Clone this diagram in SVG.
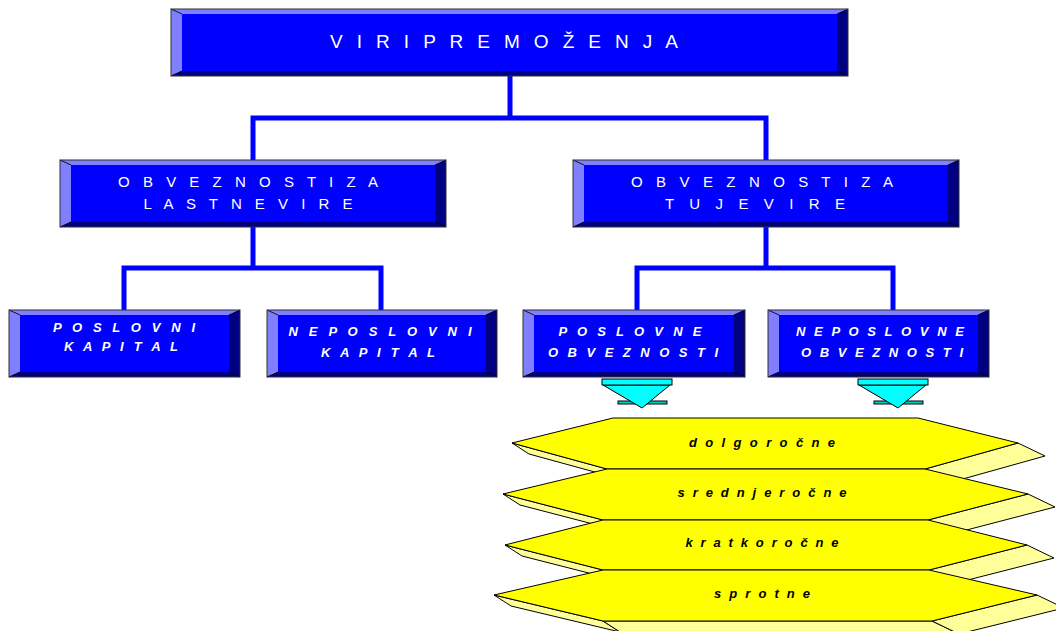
<svg xmlns="http://www.w3.org/2000/svg" width="1056" height="631" viewBox="0 0 1056 631">
  <style>
    .face { fill: #0000FF; }
    .lite { fill: #8080FF; }
    .dark { fill: #000080; }
    .rim { fill: none; stroke: #303030; stroke-width: 1; }
    .edge { stroke: #000000; stroke-width: 0.8; }
    .wire { fill: none; stroke: #0000FF; stroke-width: 5; stroke-linejoin: miter; stroke-linecap: butt; }
    .t-big { font-family: "Liberation Sans", Arial, sans-serif; font-size: 19px; fill: #FFFFFF; text-anchor: middle; }
    .t-mid { font-family: "Liberation Sans", Arial, sans-serif; font-size: 15px; fill: #FFFFFF; text-anchor: middle; }
    .t-low { font-family: "Liberation Sans", Arial, sans-serif; font-size: 13px; font-weight: bold; font-style: italic; fill: #FFFFFF; text-anchor: middle; }
    .t-band { font-family: "Liberation Sans", Arial, sans-serif; font-size: 13px; font-weight: bold; font-style: italic; fill: #000000; text-anchor: middle; }
    .band { fill: #FFFF00; stroke: #000000; stroke-width: 1; stroke-linejoin: round; }
    .band-side { fill: #FFFF99; stroke: #000000; stroke-width: 1; stroke-linejoin: round; }
    .arrow { fill: #00FFFF; stroke: #000000; stroke-width: 1; }
    .arrow-back { fill: #00CCCC; stroke: #000000; stroke-width: 1; }
  </style>

  <!-- connectors (drawn first so the boxes sit on top) -->
  <g id="connectors">
    <polyline class="wire" points="510,76 510,118"/>
    <polyline class="wire" points="253,160 253,118 766,118 766,160"/>
    <polyline class="wire" points="253,227 253,268"/>
    <polyline class="wire" points="124,310 124,268 381,268 381,310"/>
    <polyline class="wire" points="766,227 766,268"/>
    <polyline class="wire" points="637,310 637,268 893,268 893,310"/>
  </g>

  <!-- root -->
  <g id="viri-premozenja">
    <rect class="face" x="171" y="9" width="677" height="67"/>
    <polygon class="lite" points="171,9 848,9 837,14 182,14"/>
    <polygon class="lite" points="171,9 182,14 182,71 171,76"/>
    <polygon class="dark" points="848,9 848,76 837,71 837,14"/>
    <polygon class="dark" points="171,76 182,71 837,71 848,76"/>
    <path class="edge" d="M171,9 L182,14 M848,9 L837,14 M171,76 L182,71 M848,76 L837,71"/>
    <rect class="rim" x="171" y="9" width="677" height="67"/>
    <text class="t-big" x="504" y="48" textLength="348" lengthAdjust="spacing">V I R I P R E M O Ž E N J A</text>
  </g>

  <!-- second level -->
  <g id="obveznosti-lastne">
    <rect class="face" x="60" y="160" width="386" height="67"/>
    <polygon class="lite" points="60,160 446,160 435,165 71,165"/>
    <polygon class="lite" points="60,160 71,165 71,222 60,227"/>
    <polygon class="dark" points="446,160 446,227 435,222 435,165"/>
    <polygon class="dark" points="60,227 71,222 435,222 446,227"/>
    <path class="edge" d="M60,160 L71,165 M446,160 L435,165 M60,227 L71,222 M446,227 L435,222"/>
    <rect class="rim" x="60" y="160" width="386" height="67"/>
    <text class="t-mid" x="248" y="187" textLength="260" lengthAdjust="spacing">O B V E Z N O S T I Z A</text>
    <text class="t-mid" x="248" y="209" textLength="209" lengthAdjust="spacing">L A S T N E V I R E</text>
  </g>

  <g id="obveznosti-tuje">
    <rect class="face" x="573" y="160" width="386" height="67"/>
    <polygon class="lite" points="573,160 959,160 948,165 584,165"/>
    <polygon class="lite" points="573,160 584,165 584,222 573,227"/>
    <polygon class="dark" points="959,160 959,227 948,222 948,165"/>
    <polygon class="dark" points="573,227 584,222 948,222 959,227"/>
    <path class="edge" d="M573,160 L584,165 M959,160 L948,165 M573,227 L584,222 M959,227 L948,222"/>
    <rect class="rim" x="573" y="160" width="386" height="67"/>
    <text class="t-mid" x="762" y="187" textLength="262" lengthAdjust="spacing">O B V E Z N O S T I Z A</text>
    <text class="t-mid" x="755" y="209" textLength="180" lengthAdjust="spacing">T U J E V I R E</text>
  </g>

  <!-- third level -->
  <g id="poslovni-kapital">
    <rect class="face" x="9" y="310" width="231" height="67"/>
    <polygon class="lite" points="9,310 240,310 229,315 20,315"/>
    <polygon class="lite" points="9,310 20,315 20,372 9,377"/>
    <polygon class="dark" points="240,310 240,377 229,372 229,315"/>
    <polygon class="dark" points="9,377 20,372 229,372 240,377"/>
    <path class="edge" d="M9,310 L20,315 M240,310 L229,315 M9,377 L20,372 M240,377 L229,372"/>
    <rect class="rim" x="9" y="310" width="231" height="67"/>
    <text class="t-low" x="124" y="332" textLength="142" lengthAdjust="spacing">P O S L O V N I</text>
    <text class="t-low" x="121" y="351" textLength="114" lengthAdjust="spacing">K A P I T A L</text>
  </g>

  <g id="neposlovni-kapital">
    <rect class="face" x="267" y="310" width="230" height="67"/>
    <polygon class="lite" points="267,310 497,310 486,315 278,315"/>
    <polygon class="lite" points="267,310 278,315 278,372 267,377"/>
    <polygon class="dark" points="497,310 497,377 486,372 486,315"/>
    <polygon class="dark" points="267,377 278,372 486,372 497,377"/>
    <path class="edge" d="M267,310 L278,315 M497,310 L486,315 M267,377 L278,372 M497,377 L486,372"/>
    <rect class="rim" x="267" y="310" width="230" height="67"/>
    <text class="t-low" x="380" y="336" textLength="183" lengthAdjust="spacing">N E P O S L O V N I</text>
    <text class="t-low" x="378" y="357" textLength="114" lengthAdjust="spacing">K A P I T A L</text>
  </g>

  <g id="poslovne-obveznosti">
    <rect class="face" x="523" y="310" width="222" height="67"/>
    <polygon class="lite" points="523,310 745,310 734,315 534,315"/>
    <polygon class="lite" points="523,310 534,315 534,372 523,377"/>
    <polygon class="dark" points="745,310 745,377 734,372 734,315"/>
    <polygon class="dark" points="523,377 534,372 734,372 745,377"/>
    <path class="edge" d="M523,310 L534,315 M745,310 L734,315 M523,377 L534,372 M745,377 L734,372"/>
    <rect class="rim" x="523" y="310" width="222" height="67"/>
    <text class="t-low" x="630" y="336" textLength="143" lengthAdjust="spacing">P O S L O V N E</text>
    <text class="t-low" x="633" y="357" textLength="170" lengthAdjust="spacing">O B V E Z N O S T I</text>
  </g>

  <g id="neposlovne-obveznosti">
    <rect class="face" x="768" y="310" width="221" height="67"/>
    <polygon class="lite" points="768,310 989,310 978,315 779,315"/>
    <polygon class="lite" points="768,310 779,315 779,372 768,377"/>
    <polygon class="dark" points="989,310 989,377 978,372 978,315"/>
    <polygon class="dark" points="768,377 779,372 978,372 989,377"/>
    <path class="edge" d="M768,310 L779,315 M989,310 L978,315 M768,377 L779,372 M989,377 L978,372"/>
    <rect class="rim" x="768" y="310" width="221" height="67"/>
    <text class="t-low" x="880" y="336" textLength="168" lengthAdjust="spacing">N E P O S L O V N E</text>
    <text class="t-low" x="882" y="357" textLength="162" lengthAdjust="spacing">O B V E Z N O S T I</text>
  </g>

  <!-- down arrows -->
  <g id="arrow-poslovne">
    <rect class="arrow-back" x="618" y="401" width="49" height="3"/>
    <polygon class="arrow" points="603,385 670,385 642,408"/>
    <rect class="arrow" x="602" y="379" width="70" height="6"/>
  </g>
  <g id="arrow-neposlovne">
    <rect class="arrow-back" x="874" y="401" width="49" height="3"/>
    <polygon class="arrow" points="859,385 926,385 898,408"/>
    <rect class="arrow" x="858" y="379" width="70" height="6"/>
  </g>

  <!-- maturity bands, stacked top to bottom -->
  <g id="dolgorocne">
    <polygon class="band-side" points="512,443 607,469 624,480 529,454"/>
    <polygon class="band-side" points="607,469 925,469 952,482 624,480"/>
    <polygon class="band-side" points="1018,443 1045,456 952,482 925,469"/>
    <polygon class="band" points="613,418 918,418 1018,443 925,469 607,469 512,443"/>
    <text class="t-band" x="762" y="447" textLength="146" lengthAdjust="spacing">d o l g o r o č n e</text>
  </g>

  <g id="srednjerocne">
    <polygon class="band-side" points="503,494 603,520 620,531 520,505"/>
    <polygon class="band-side" points="603,520 928,520 955,533 620,531"/>
    <polygon class="band-side" points="1028,494 1055,507 955,533 928,520"/>
    <polygon class="band" points="607,469 925,469 1028,494 928,520 603,520 503,494"/>
    <text class="t-band" x="762" y="497" textLength="169" lengthAdjust="spacing">s r e d n j e r o č n e</text>
  </g>

  <g id="kratkorocne">
    <polygon class="band-side" points="505,545 603,570 620,581 522,556"/>
    <polygon class="band-side" points="603,570 929,570 956,583 620,581"/>
    <polygon class="band-side" points="1027,545 1054,558 956,583 929,570"/>
    <polygon class="band" points="603,520 928,520 1027,545 929,570 603,570 505,545"/>
    <text class="t-band" x="762" y="547" textLength="153" lengthAdjust="spacing">k r a t k o r o č n e</text>
  </g>

  <g id="sprotne">
    <polygon class="band-side" points="494,595 603,621 620,632 511,606"/>
    <polygon class="band-side" points="603,621 932,621 959,634 620,632"/>
    <polygon class="band-side" points="1037,595 1064,608 959,634 932,621"/>
    <polygon class="band" points="603,570 929,570 1037,595 932,621 603,621 494,595"/>
    <text class="t-band" x="762" y="598" textLength="96" lengthAdjust="spacing">s p r o t n e</text>
  </g>
</svg>
